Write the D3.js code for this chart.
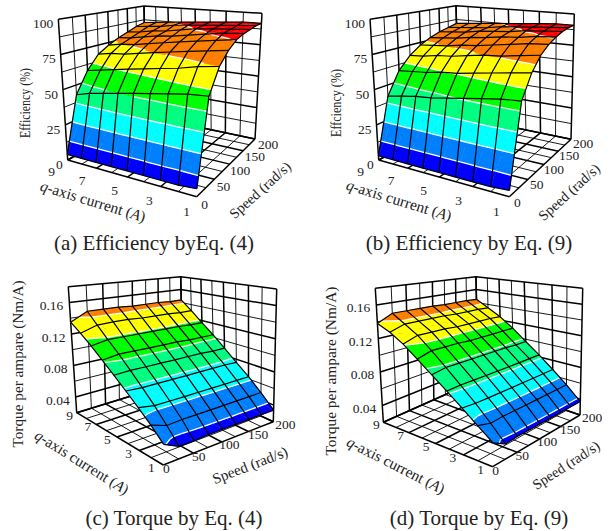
<!DOCTYPE html>
<meta charset="utf-8">
<head>
<script src="https://cdnjs.cloudflare.com/ajax/libs/d3/7.8.5/d3.min.js"></script>
<style>
body { margin: 0; background: #fff; }
text { font-family: "Liberation Serif", serif; fill: #222; }
</style>
</head>
<body>
<div id="chart"></div>
<script>

// grid of the surfaces, columns of the value tables follow currents, rows follow speeds
var currents = [9, 8, 7, 6, 5, 4, 3, 2, 1];
var speeds = [0, 25, 50, 75, 100, 125, 150, 175, 200];

var currentTicks = [9, 7, 5, 3, 1];
var speedTicks = [0, 50, 100, 150, 200];
var efficiencyTicks = [0, 25, 50, 75, 100];
var torqueTicks = [0.04, 0.08, 0.12, 0.16];

var efficiencyLevels = [0, 12.5, 25, 37.5, 50, 62.5, 75, 87.5, 100];
var torqueLevels = [0.02, 0.04, 0.06, 0.08, 0.10, 0.12, 0.14, 0.16, 0.18];
var bandColors = ["#0000ff", "#0080ff", "#00ffff", "#00ff80", "#00ff00", "#ffff00", "#ff8000", "#ff0000"];

var efficiencyEq4 = [
  [4, 4, 4, 4, 4, 4, 4, 4, 5],
  [43, 46, 48, 50, 52, 54, 56, 58, 59],
  [58, 60, 62, 64, 66, 68, 70, 73, 75],
  [68, 70, 71, 73, 75, 77, 79, 81, 83],
  [73, 75, 76, 78, 80, 82, 84, 86, 88],
  [77, 78, 80, 82, 83, 85, 87, 89, 90],
  [80, 81, 83, 84, 86, 88, 89, 90, 91],
  [83, 84, 85, 87, 88, 89, 90, 91, 92],
  [85, 86, 87, 88, 89, 90, 91, 92, 92]
];

var efficiencyEq9 = [
  [3, 3, 3, 3, 3, 3, 3, 3, 4],
  [42, 44, 46, 47, 49, 51, 53, 55, 56],
  [58, 59, 60, 62, 63, 65, 67, 69, 71],
  [67, 68, 70, 71, 73, 75, 76, 78, 80],
  [73, 74, 75, 77, 78, 80, 82, 84, 85],
  [77, 78, 79, 81, 82, 84, 85, 87, 88],
  [80, 81, 82, 84, 85, 86, 88, 89, 90],
  [82, 83, 84, 85, 87, 88, 89, 90, 91],
  [84, 85, 86, 87, 88, 89, 90, 91, 91]
];

var torqueEq4 = [
  [0.135, 0.125, 0.114, 0.102, 0.090, 0.078, 0.066, 0.054, 0.041],
  [0.146, 0.132, 0.118, 0.105, 0.091, 0.077, 0.063, 0.048, 0.033],
  [0.146, 0.133, 0.118, 0.105, 0.091, 0.077, 0.063, 0.049, 0.033],
  [0.146, 0.133, 0.118, 0.105, 0.091, 0.077, 0.063, 0.049, 0.034],
  [0.145, 0.132, 0.118, 0.105, 0.091, 0.077, 0.063, 0.049, 0.034],
  [0.145, 0.132, 0.118, 0.105, 0.091, 0.077, 0.063, 0.049, 0.034],
  [0.145, 0.132, 0.118, 0.104, 0.091, 0.077, 0.063, 0.049, 0.034],
  [0.144, 0.131, 0.117, 0.104, 0.090, 0.077, 0.063, 0.049, 0.034],
  [0.144, 0.131, 0.117, 0.104, 0.090, 0.076, 0.063, 0.049, 0.034]
];

var torqueEq9 = [
  [0.138, 0.131, 0.121, 0.108, 0.095, 0.082, 0.069, 0.056, 0.044],
  [0.147, 0.137, 0.127, 0.113, 0.098, 0.083, 0.068, 0.052, 0.036],
  [0.147, 0.137, 0.127, 0.113, 0.098, 0.083, 0.068, 0.053, 0.037],
  [0.147, 0.137, 0.127, 0.113, 0.098, 0.083, 0.068, 0.053, 0.037],
  [0.147, 0.137, 0.126, 0.112, 0.098, 0.083, 0.068, 0.053, 0.037],
  [0.146, 0.136, 0.126, 0.112, 0.098, 0.083, 0.068, 0.053, 0.037],
  [0.146, 0.136, 0.126, 0.112, 0.098, 0.083, 0.068, 0.053, 0.037],
  [0.146, 0.136, 0.126, 0.112, 0.097, 0.083, 0.068, 0.053, 0.037],
  [0.145, 0.135, 0.125, 0.112, 0.097, 0.083, 0.068, 0.053, 0.037]
];

var panels = [
  {
    values: efficiencyEq4, levels: efficiencyLevels, ticks: efficiencyTicks, tickFormat: d3.format("d"),
    floor: {front: [196.7, 196.7], left: [67.7, 160], back: [146, 116], right: [255, 139]},
    top: {front: [200, 37], left: [58.3, 19.3], back: [144, 6], right: [262, 13.3]},
    currentOffset: [[-16, 12], [-10, 15]], speedOffset: [[8, 8], [13, 6]], valueOffset: [-5, 5],
    zTitle: "Efficiency (%)", zSize: 14.5, zLength: 70, zPos: [25, 103],
    qPos: [93, 201], qAngle: 17, qSize: 15.5, sPos: [260, 190], sAngle: -42, sSize: 14.5,
    caption: "(a) Efficiency byEq. (4)", capPos: [154, 250]
  },
  {
    values: efficiencyEq9, levels: efficiencyLevels, ticks: efficiencyTicks, tickFormat: d3.format("d"),
    floor: {front: [509.3, 196.7], left: [378.7, 160], back: [459, 116], right: [571, 139.3]},
    top: {front: [513, 37], left: [370, 19.3], back: [456, 5.7], right: [574.3, 14]},
    currentOffset: [[-18, 12], [-13, 15]], speedOffset: [[8, 6], [12, 5]], valueOffset: [-5, 5],
    zTitle: "Effciency (%)", zSize: 14.5, zLength: 68, zPos: [336, 103],
    qPos: [399, 200], qAngle: 17, qSize: 15.5, sPos: [569, 192], sAngle: -42, sSize: 14.5,
    caption: "(b) Efficiency by Eq. (9)", capPos: [469, 250]
  },
  {
    values: torqueEq4, levels: torqueLevels, ticks: torqueTicks, tickFormat: d3.format(".2f"),
    floor: {front: [163.3, 465], left: [76.7, 412.7], back: [183, 380], right: [273.3, 421.7]},
    top: {front: [166, 308], left: [68.3, 286.7], back: [180.7, 276.7], right: [276.7, 289]},
    currentOffset: [[-7, 3], [-12, 3]], speedOffset: [[3, 4], [12, 3]], valueOffset: [-6, 4],
    zTitle: "Torque per ampare (Nm/A)", zSize: 15, zLength: 167, zPos: [18, 364],
    qPos: [82, 462], qAngle: 32, qSize: 15.3, sPos: [250, 465], sAngle: -21, sSize: 15,
    caption: "(c) Torque by Eq. (4)", capPos: [174, 525]
  },
  {
    values: torqueEq9, levels: torqueLevels, ticks: torqueTicks, tickFormat: d3.format(".2f"),
    floor: {front: [492.7, 466.7], left: [383.3, 422.3], back: [478, 380], right: [580, 415]},
    top: {front: [495, 308], left: [375.3, 288.3], back: [476, 276.7], right: [582.7, 288.3]},
    currentOffset: [[-7, 3], [-12, 3]], speedOffset: [[3, 4], [12, 3]], valueOffset: [-6, 3],
    zTitle: "Torque per ampare (Nm/A)", zSize: 15, zLength: 169, zPos: [331, 371],
    qPos: [396, 465], qAngle: 27, qSize: 15.3, sPos: [566, 465], sAngle: -33, sSize: 14.5,
    caption: "(d) Torque by Eq. (9)", capPos: [479, 525]
  }
];

var svg = d3.select("#chart").append("svg")
    .attr("width", 612)
    .attr("height", 531);

var line = d3.line();

// unit square to quad, so the grids keep their perspective
function quadMap(q) {
  var x0 = q.front[0], y0 = q.front[1], x1 = q.left[0], y1 = q.left[1],
      x2 = q.back[0], y2 = q.back[1], x3 = q.right[0], y3 = q.right[1];
  var dx1 = x1 - x2, dx2 = x3 - x2, sx = x0 - x1 + x2 - x3,
      dy1 = y1 - y2, dy2 = y3 - y2, sy = y0 - y1 + y2 - y3;
  var den = dx1 * dy2 - dx2 * dy1;
  var g = (sx * dy2 - dx2 * sy) / den, h = (dx1 * sy - sx * dy1) / den;
  var a = x1 - x0 + g * x1, b = x3 - x0 + h * x3,
      d = y1 - y0 + g * y1, e = y3 - y0 + h * y3;
  return function(u, v) {
    var w = g * u + h * v + 1;
    return [(a * u + b * v + x0) / w, (d * u + e * v + y0) / w];
  };
}

// keeps the part of a polygon of [current, speed, value] on one side of a level
function clip(poly, level, above) {
  var out = [];
  poly.forEach(function(p, i) {
    var n = poly[(i + 1) % poly.length];
    var pIn = above ? p[2] >= level : p[2] <= level;
    var nIn = above ? n[2] >= level : n[2] <= level;
    if (pIn) out.push(p);
    if (pIn != nIn) {
      var t = (level - p[2]) / (n[2] - p[2]);
      out.push([p[0] + t * (n[0] - p[0]), p[1] + t * (n[1] - p[1]), level]);
    }
  });
  return out;
}

panels.forEach(drawPanel);

function drawPanel(p) {
  var levels = p.levels;
  var uScale = d3.scaleLinear().domain([1, 9]).range([0, 1]);
  var vScale = d3.scaleLinear().domain([0, 200]).range([0, 1]);
  var wScale = d3.scaleLinear().domain([levels[0], levels[8]]).range([0, 1]);
  var floorAt = quadMap(p.floor), topAt = quadMap(p.top);

  function project(c, s, z) {
    var a = floorAt(uScale(c), vScale(s)), b = topAt(uScale(c), vScale(s));
    var w = wScale(z);
    return [a[0] + w * (b[0] - a[0]), a[1] + w * (b[1] - a[1])];
  }

  var g = svg.append("g");

  function wire(pts, width) {
    g.append("path")
        .attr("d", line(pts))
        .attr("fill", "none")
        .attr("stroke", "#000")
        .attr("stroke-width", width);
  }

  // floor and the two back walls, lines on a tick are heavier
  var zLow = levels[0], zHigh = levels[8];
  speeds.forEach(function(s) {
    var width = speedTicks.indexOf(s) >= 0 ? 1.5 : 0.9;
    wire([project(1, s, zLow), project(9, s, zLow)], width);
    wire([project(9, s, zLow), project(9, s, zHigh)], width);
  });
  currents.forEach(function(c) {
    var width = currentTicks.indexOf(c) >= 0 ? 1.5 : 0.9;
    wire([project(c, 0, zLow), project(c, 200, zLow)], width);
    wire([project(c, 200, zLow), project(c, 200, zHigh)], width);
  });
  levels.forEach(function(z, k) {
    var width = (k == 0 || k == 8 || p.ticks.indexOf(z) >= 0) ? 1.5 : 0.9;
    wire([project(9, 0, z), project(9, 200, z), project(1, 200, z)], width);
  });

  // surface cut into colour bands
  var cells = g.append("g");
  var contours = [];
  for (var i = speeds.length - 2; i >= 0; i--) {
    for (var j = 0; j < currents.length - 1; j++) {
      var a = [currents[j], speeds[i], p.values[i][j]],
          b = [currents[j + 1], speeds[i], p.values[i][j + 1]],
          c = [currents[j + 1], speeds[i + 1], p.values[i + 1][j + 1]],
          d = [currents[j], speeds[i + 1], p.values[i + 1][j]];
      [[a, b, c], [a, c, d]].forEach(function(tri) {
        bandColors.forEach(function(color, k) {
          var part = clip(clip(tri, levels[k], true), levels[k + 1], false);
          if (part.length < 3) return;
          cells.append("path")
              .attr("d", line(part.map(function(q) { return project(q[0], q[1], q[2]); })) + "Z")
              .attr("fill", color)
              .attr("stroke", color)
              .attr("stroke-width", 0.4);
          var onLevel = part.filter(function(q) { return q[2] == levels[k + 1]; });
          if (onLevel.length == 2) contours.push(onLevel);
        });
      });
    }
  }
  contours.forEach(function(seg) {
    g.append("path")
        .attr("d", line(seg.map(function(q) { return project(q[0], q[1], q[2]); })))
        .attr("stroke", "#fff")
        .attr("stroke-width", 1.3);
  });

  // mesh lines of the surface
  speeds.forEach(function(s, i) {
    wire(currents.map(function(c, j) { return project(c, s, p.values[i][j]); }), 1.2);
  });
  currents.forEach(function(c, j) {
    wire(speeds.map(function(s, i) { return project(c, s, p.values[i][j]); }), 1.2);
  });

  // tick labels
  var tickSize = 13.5;
  currentTicks.forEach(function(c) {
    var pos = project(c, 0, zLow);
    var off = d3.interpolateArray(p.currentOffset[0], p.currentOffset[1])((9 - c) / 8);
    g.append("text").attr("x", pos[0] + off[0]).attr("y", pos[1] + off[1] + 4)
        .attr("text-anchor", "middle").attr("font-size", tickSize).text(c);
  });
  speedTicks.forEach(function(s) {
    var pos = project(1, s, zLow);
    var off = d3.interpolateArray(p.speedOffset[0], p.speedOffset[1])(s / 200);
    g.append("text").attr("x", pos[0] + off[0]).attr("y", pos[1] + off[1] + 4)
        .attr("text-anchor", "middle").attr("font-size", tickSize).text(s);
  });
  p.ticks.forEach(function(z) {
    var pos = project(9, 0, z);
    g.append("text").attr("x", pos[0] + p.valueOffset[0]).attr("y", pos[1] + p.valueOffset[1] + 4)
        .attr("text-anchor", "end").attr("font-size", tickSize).text(p.tickFormat(z));
  });

  // axis titles and caption
  g.append("text")
      .attr("transform", "translate(" + p.zPos + ") rotate(-90)")
      .attr("dy", ".35em")
      .attr("textLength", p.zLength)
      .attr("lengthAdjust", "spacingAndGlyphs")
      .attr("text-anchor", "middle").attr("font-size", p.zSize).text(p.zTitle);
  var q = g.append("text")
      .attr("transform", "translate(" + p.qPos + ") rotate(" + p.qAngle + ")")
      .attr("dy", ".35em")
      .attr("text-anchor", "middle").attr("font-size", p.qSize);
  q.append("tspan").attr("font-style", "italic").text("q");
  q.append("tspan").text("-axis current (");
  q.append("tspan").attr("font-style", "italic").text("A");
  q.append("tspan").text(")");
  g.append("text")
      .attr("transform", "translate(" + p.sPos + ") rotate(" + p.sAngle + ")")
      .attr("dy", ".35em")
      .attr("text-anchor", "middle").attr("font-size", p.sSize).text("Speed (rad/s)");
  g.append("text")
      .attr("x", p.capPos[0]).attr("y", p.capPos[1])
      .attr("text-anchor", "middle").attr("font-size", 21).text(p.caption);
}

</script>
</body>
